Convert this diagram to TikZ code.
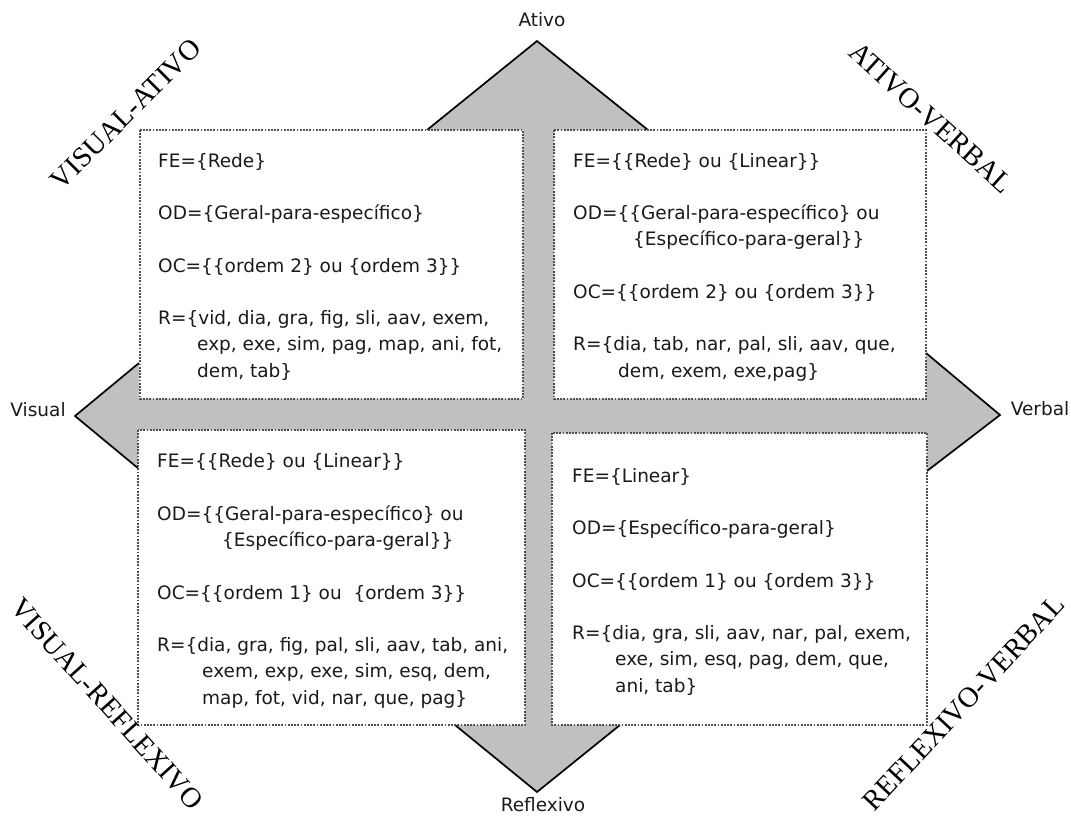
\documentclass[tikz,border=0pt]{standalone}
\usepackage{fontspec}
\setmainfont{DejaVu Sans}
\newfontfamily\cornerfont{Liberation Serif}
\definecolor{arrowgray}{HTML}{C0C0C0}
\definecolor{boxgray}{HTML}{505050}
\definecolor{textgray}{HTML}{1A1A1A}
\begin{document}
\begin{tikzpicture}[x=1pt,y=-1pt,
  headedge/.style={draw=black, line width=1.7pt, line join=miter},
  infobox/.style={fill=white, draw=boxgray, line width=1.4pt, dash pattern=on 1.8pt off 1.4pt},
  % anchored at the baseline of the last line of each block
  infotext/.style={anchor=base west, inner sep=0pt, align=left,
    font=\fontsize{18.5}{26.25}\selectfont, text=textgray},
  axislabel/.style={inner sep=0pt, font=\fontsize{18.5}{22}\selectfont, text=textgray},
  cornerlabel/.style={inner sep=0pt, font=\cornerfont\fontsize{28.5}{30}\selectfont, text=black}
]
\useasboundingbox (0,0) rectangle (1071,816);

% shafts of the cross (visible only between the boxes)
\fill[arrowgray] (518,129) rectangle (559,726);
\fill[arrowgray] (139,396) rectangle (927,435);

% arrow heads
\fill[arrowgray] (427,130) -- (537,41) -- (648,130) -- cycle;
\draw[headedge] (427,130) -- (537,41) -- (648,130);
\fill[arrowgray] (455,725) -- (537,792) -- (620,725) -- cycle;
\draw[headedge] (455,725) -- (537,792) -- (620,725);
\fill[arrowgray] (139,363) -- (75,416) -- (139,469) -- cycle;
\draw[headedge] (139,363) -- (75,416) -- (139,469);
\fill[arrowgray] (926,353) -- (1000,415) -- (927,471) -- cycle;
\draw[headedge] (926,353) -- (1000,415) -- (927,471);

% quadrant boxes
\draw[infobox] (140,130) rectangle (523,399);
\draw[infobox] (554,130) rectangle (926,399);
\draw[infobox] (138,430) rectangle (525,725);
\draw[infobox] (552,433) rectangle (927,725);

% quadrant contents
\node[infotext] (va) at (158,377) {%
FE=\{Rede\}\\[26.25pt]
OD=\{Geral-para-específico\}\\[26.25pt]
OC=\{\{ordem 2\} ou \{ordem 3\}\}\\[26.25pt]
R=\{vid, dia, gra, fig, sli, aav, exem,\\
\hspace*{39pt}exp, exe, sim, pag, map, ani, fot,\\
\hspace*{39pt}dem, tab\}};

\node[infotext] (av) at (573,377) {%
FE=\{\{Rede\} ou \{Linear\}\}\\[26.25pt]
OD=\{\{Geral-para-específico\} ou\\
\hspace*{60pt}\{Específico-para-geral\}\}\\[26.25pt]
OC=\{\{ordem 2\} ou \{ordem 3\}\}\\[26.25pt]
R=\{dia, tab, nar, pal, sli, aav, que,\\
\hspace*{45pt}dem, exem, exe,pag\}};

\node[infotext] (vr) at (157,704) {%
FE=\{\{Rede\} ou \{Linear\}\}\\[26.25pt]
OD=\{\{Geral-para-específico\} ou\\
\hspace*{65pt}\{Específico-para-geral\}\}\\[26.25pt]
OC=\{\{ordem 1\} ou\ \ \{ordem 3\}\}\\[26.25pt]
R=\{dia, gra, fig, pal, sli, aav, tab, ani,\\
\hspace*{45pt}exem, exp, exe, sim, esq, dem,\\
\hspace*{45pt}map, fot, vid, nar, que, pag\}};

\node[infotext] (rv) at (572,692) {%
FE=\{Linear\}\\[26.25pt]
OD=\{Específico-para-geral\}\\[26.25pt]
OC=\{\{ordem 1\} ou \{ordem 3\}\}\\[26.25pt]
R=\{dia, gra, sli, aav, nar, pal, exem,\\
\hspace*{43pt}exe, sim, esq, pag, dem, que,\\
\hspace*{43pt}ani, tab\}};

% axis labels
\node[axislabel] (ativo) at (542,20) {Ativo};
\node[axislabel] (reflexivo) at (543,805) {Reflexivo};
\node[axislabel] (visual) at (38,410) {Visual};
\node[axislabel] (verbal) at (1040,409) {Verbal};

% quadrant titles
\node[cornerlabel, rotate=45] (tva) at (126,114) {VISUAL-ATIVO};
\node[cornerlabel, rotate=-42] (tav) at (931,118) {ATIVO-VERBAL};
\node[cornerlabel, rotate=-48] (tvr) at (107,704) {VISUAL-REFLEXIVO};
\node[cornerlabel, rotate=47] (trv) at (964,703) {REFLEXIVO-VERBAL};
\end{tikzpicture}
\end{document}
